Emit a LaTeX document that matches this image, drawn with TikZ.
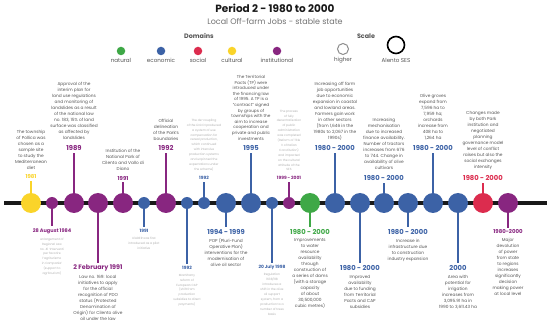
\documentclass[tikz,border=0pt]{standalone}
\usepackage{fontspec}
\setmainfont{Poppins}
\usetikzlibrary{positioning}
\definecolor{tlNatural}{RGB}{62,168,70}
\definecolor{tlEconomic}{RGB}{60,98,166}
\definecolor{tlSocial}{RGB}{220,44,78}
\definecolor{tlCultural}{RGB}{250,212,42}
\definecolor{tlInstitutional}{RGB}{136,38,128}
\definecolor{tlText}{RGB}{85,85,85}
\definecolor{tlFaint}{RGB}{175,175,175}
\definecolor{tlLine}{RGB}{25,25,25}

\begin{document}
\begin{tikzpicture}[x=1pt,y=-1pt,
    bigdot/.style={circle,minimum size=20pt,inner sep=0pt},
    smalldot/.style={circle,minimum size=12pt,inner sep=0pt},
    legdot/.style={circle,minimum size=8.5pt,inner sep=0pt},
    leglbl/.style={text=tlText,font=\fontsize{5.6}{6}\selectfont,inner sep=0.5pt},
    stem/.style={line width=1.6pt},
    yr/.style={font=\fontsize{6.8}{7}\selectfont\bfseries,inner sep=2pt},
    yrmid/.style={font=\fontsize{5.4}{6}\selectfont\bfseries,inner sep=2pt},
    yrsmall/.style={font=\fontsize{4.4}{5}\selectfont\bfseries,inner sep=2pt},
    txt/.style={align=center,text=tlText,font=\fontsize{4.3}{6}\selectfont,inner sep=1pt},
    faint/.style={txt,text=tlFaint,font=\fontsize{3}{4.9}\selectfont}]
  \useasboundingbox[fill=white] (0,0) rectangle (550,329);

  % header
  \node[font=\fontsize{10.5}{12}\selectfont\bfseries,text=tlLine] (title) at (275,8) {Period 2 - 1980 to 2000};
  \node[font=\fontsize{8}{9}\selectfont,text=black!55] (subtitle) at (275,21) {Local Off-farm Jobs - stable state};

  % legend
  \node[font=\fontsize{6.4}{7}\selectfont\bfseries,text=tlText] (domains) at (199,36) {Domains};
  \node[legdot,fill=tlNatural] (lgNat) at (121,51) {};
  \node[legdot,fill=tlEconomic] (lgEco) at (161,51) {};
  \node[legdot,fill=tlSocial] (lgSoc) at (198,51) {};
  \node[legdot,fill=tlCultural] (lgCul) at (232,51) {};
  \node[legdot,fill=tlInstitutional] (lgIns) at (277,51) {};
  \node[leglbl] at (121,60.5) {natural};
  \node[leglbl] at (161,60.5) {economic};
  \node[leglbl] at (198,60.5) {social};
  \node[leglbl] at (232,60.5) {cultural};
  \node[leglbl] at (277,60.5) {institutional};
  \node[font=\fontsize{6.4}{7}\selectfont\bfseries,text=tlText] (scale) at (366,36) {Scale};
  \node[circle,draw=black!45,line width=1pt,minimum size=11pt,inner sep=0pt] (lgHigh) at (343,49) {};
  \node[circle,draw=black,line width=1.6pt,minimum size=17pt,inner sep=0pt] (lgSES) at (396,45) {};
  \node[leglbl] at (343,60.5) {higher};
  \node[leglbl] at (396,60.5) {Alento SES};

  % timeline
  \coordinate (tlL) at (4,203);
  \coordinate (tlR) at (547,203);
  \draw[tlLine,line width=3.2pt] (tlL) -- (tlR);

  % events above the line
  \node[bigdot,fill=tlCultural] (d81) at (31,203) {};
  \node[yrmid,text=tlCultural] (y81) at (31,177) {1981};
  \node[txt,above=2pt of y81] (t81) {The township\\of Pollica was\\chosen as a\\sample site\\to study the\\Mediterranean\\diet};
  \draw[stem,tlCultural] (d81) -- (y81);

  \node[bigdot,fill=tlInstitutional] (d89) at (74,203) {};
  \node[yr,text=tlInstitutional] (y89) at (74,148) {1989};
  \node[txt,above=2pt of y89] (t89) {Approval of the\\interim plan for\\land use regulations\\and monitoring of\\landslides as a result\\of the national law\\no. 183, 15\% of land\\surface was classified\\as affected by\\landslides};
  \draw[stem,tlInstitutional] (d89) -- (y89);

  \node[bigdot,fill=tlInstitutional] (d91) at (123,203) {};
  \node[yrmid,text=tlInstitutional] (y91) at (123,178) {1991};
  \node[txt,above=2pt of y91] (t91) {Institution of the\\National Park of\\Cilento and Vallo di\\Diano};
  \draw[stem,tlInstitutional] (d91) -- (y91);

  \node[bigdot,fill=tlInstitutional] (d92) at (166,203) {};
  \node[yr,text=tlInstitutional] (y92) at (166,148) {1992};
  \node[txt,above=2pt of y92] (t92) {Official\\delineation\\of the Park's\\boundaries};
  \draw[stem,tlInstitutional] (d92) -- (y92);

  \node[smalldot,fill=tlEconomic] (d92b) at (204,203) {};
  \node[yrsmall,text=tlEconomic] (y92b) at (204,178) {1992};
  \node[faint,above=2pt of y92b] (t92b) {The de-coupling\\of the Link DI produced\\a system of use\\compensation for\\cereal production,\\which continued\\with intensive\\production systems\\and unpinned the\\expectations under\\the scheme)};
  \draw[stem,tlEconomic] (d92b) -- (y92b);

  \node[bigdot,fill=tlEconomic] (d95) at (251,203) {};
  \node[yr,text=tlEconomic] (y95) at (251,148) {1995};
  \node[txt,above=2pt of y95,font=\fontsize{4.2}{5.6}\selectfont] (t95) {The Territorial\\Pacts (TP) were\\introduced under\\the financing law\\of 1995. A TP is a\\``contract'' signed\\by groups of\\townships with the\\aim to increase\\cooperation and\\private and public\\investments};
  \draw[stem,tlEconomic] (d95) -- (y95);

  \node[smalldot,fill=tlInstitutional] (d99) at (289,203) {};
  \node[yrsmall,text=tlInstitutional] (y99) at (289,178) {1999 - 2001};
  \node[faint,above=2pt of y99] (t99) {The process\\of fully\\decentralisation\\of public\\administration\\was completed\\(Reform of Title\\V of Italian\\Constitution)\\and impacted\\on the cultural\\attitude of the\\SES};
  \draw[stem,tlInstitutional] (d99) -- (y99);

  \node[bigdot,fill=tlEconomic] (dJobs) at (335,203) {};
  \node[yr,text=tlEconomic] (yJobs) at (335,148) {1980 - 2000};
  \node[txt,above=2pt of yJobs] (tJobs) {Increasing off farm\\job opportunities\\due to economic\\expansion in coastal\\and lowland areas.\\Farmers gain work\\in other sectors\\(from 1,646 in the\\1980s to 2,067 in the\\1990s)};
  \draw[stem,tlEconomic] (dJobs) -- (yJobs);

  \node[bigdot,fill=tlEconomic] (dMech) at (384,203) {};
  \node[yr,text=tlEconomic] (yMech) at (384,178) {1980 - 2000};
  \node[txt,above=2pt of yMech] (tMech) {Increasing\\mechanisation\\due to increased\\finance availability.\\Number of tractors\\increases from 676\\to 744. Change in\\availability of olive\\cultivars};
  \draw[stem,tlEconomic] (dMech) -- (yMech);

  \node[bigdot,fill=tlEconomic] (dOlive) at (433,203) {};
  \node[yr,text=tlEconomic] (yOlive) at (433,148) {1980 - 2000};
  \node[txt,above=2pt of yOlive] (tOlive) {Olive groves\\expand from\\7,596 ha to\\7,959 ha;\\orchards\\increase from\\408 ha to\\1,264 ha};
  \draw[stem,tlEconomic] (dOlive) -- (yOlive);

  \node[bigdot,fill=tlSocial] (dConf) at (483,203) {};
  \node[yr,text=tlSocial] (yConf) at (483,178) {1980 - 2000};
  \node[txt,above=2pt of yConf] (tConf) {Changes made\\by both Park\\institution and\\negotiated\\planning\\governance model\\level of conflict\\raises but also the\\social exchanges\\intensity};
  \draw[stem,tlSocial] (dConf) -- (yConf);

  % events below the line
  \node[smalldot,fill=tlInstitutional] (d84) at (52,203) {};
  \node[yrmid,text=tlInstitutional,font=\fontsize{5}{6}\selectfont\bfseries] (y84) at (52,231) {28 August 1984};
  \node[faint,below=1pt of y84] (t84) {enlargement of\\Regional Law\\no. 41 `Interventi\\per favorire\\l'agriturismo\\in Campania'\\(support to\\agritourism)};
  \draw[stem,tlInstitutional] (d84) -- (y84);

  \node[bigdot,fill=tlInstitutional] (d91b) at (98,203) {};
  \node[yr,text=tlInstitutional,font=\fontsize{6.4}{7}\selectfont\bfseries] (y91b) at (98,268) {2 February 1991};
  \node[txt,below=1pt of y91b] (t91b) {Law no. 169: local\\initiatives to apply\\for the official\\recognition of PDO\\status (Protected\\Denomination of\\Origin) for Cilento olive\\oil under the law};
  \draw[stem,tlInstitutional] (d91b) -- (y91b);

  \node[smalldot,fill=tlEconomic] (d91c) at (144,203) {};
  \node[yrsmall,text=tlEconomic] (y91c) at (144,231) {1991};
  \node[faint,below=1pt of y91c] (t91c) {LEADER was first\\introduced as a pilot\\initiative};
  \draw[stem,tlEconomic] (d91c) -- (y91c);

  \node[smalldot,fill=tlEconomic] (d92c) at (187,203) {};
  \node[yrsmall,text=tlEconomic] (y92c) at (187,268) {1992};
  \node[faint,below=1pt of y92c] (t92c) {MacSharry\\reform of\\European CAP\\(shift from\\production\\subsidies to direct\\payments)};
  \draw[stem,tlEconomic] (d92c) -- (y92c);

  \node[bigdot,fill=tlEconomic] (d94) at (226,203) {};
  \node[yr,text=tlEconomic] (y94) at (226,232) {1994 - 1999};
  \node[txt,below=1pt of y94] (t94) {POP (Pluri-Fund\\Operative Plan)\\interventions for the\\modernisation of\\olive oil sector};
  \draw[stem,tlEconomic] (d94) -- (y94);

  \node[smalldot,fill=tlEconomic] (d98) at (272,203) {};
  \node[yrsmall,text=tlEconomic] (y98) at (272,267) {20 July 1998};
  \node[faint,below=1pt of y98] (t98) {Regulation\\1638/98\\introduces a\\shift in the olive\\oil support\\system, from a\\production to a\\number of trees\\basis};
  \draw[stem,tlEconomic] (d98) -- (y98);

  \node[bigdot,fill=tlNatural] (dWater) at (310,203) {};
  \node[yr,text=tlNatural] (yWater) at (310,232) {1980 - 2000};
  \node[txt,below=1pt of yWater] (tWater) {Improvements\\to water\\resource\\availability\\through\\construction of\\a series of dams\\(with a storage\\capacity\\of about\\30,500,000\\cubic metres)};
  \draw[stem,tlNatural] (dWater) -- (yWater);

  \node[bigdot,fill=tlEconomic] (dFund) at (360,203) {};
  \node[yr,text=tlEconomic] (yFund) at (360,268) {1980 - 2000};
  \node[txt,below=1pt of yFund] (tFund) {Improved\\availability\\due to funding\\from Territorial\\Pacts and CAP\\subsidies};
  \draw[stem,tlEconomic] (dFund) -- (yFund);

  \node[bigdot,fill=tlEconomic] (dInfra) at (408,203) {};
  \node[yr,text=tlEconomic] (yInfra) at (408,232) {1980 - 2000};
  \node[txt,below=1pt of yInfra] (tInfra) {Increase in\\infrastructure due\\to construction\\industry expansion};
  \draw[stem,tlEconomic] (dInfra) -- (yInfra);

  \node[bigdot,fill=tlEconomic] (dIrr) at (458,203) {};
  \node[yr,text=tlEconomic] (yIrr) at (458,268) {2000};
  \node[txt,below=1pt of yIrr] (tIrr) {Area with\\potential for\\irrigation\\increases from\\3,095.91 ha in\\1990 to 3,611.43 ha};
  \draw[stem,tlEconomic] (dIrr) -- (yIrr);

  \node[bigdot,fill=tlInstitutional] (dDevo) at (508,203) {};
  \node[yrmid,text=tlInstitutional] (yDevo) at (508,232) {1980-2000};
  \node[txt,below=1pt of yDevo] (tDevo) {Major\\devolution\\of power\\from state\\to regions\\increases\\significantly\\decision\\making power\\at local level};
  \draw[stem,tlInstitutional] (dDevo) -- (yDevo);
\end{tikzpicture}
\end{document}
